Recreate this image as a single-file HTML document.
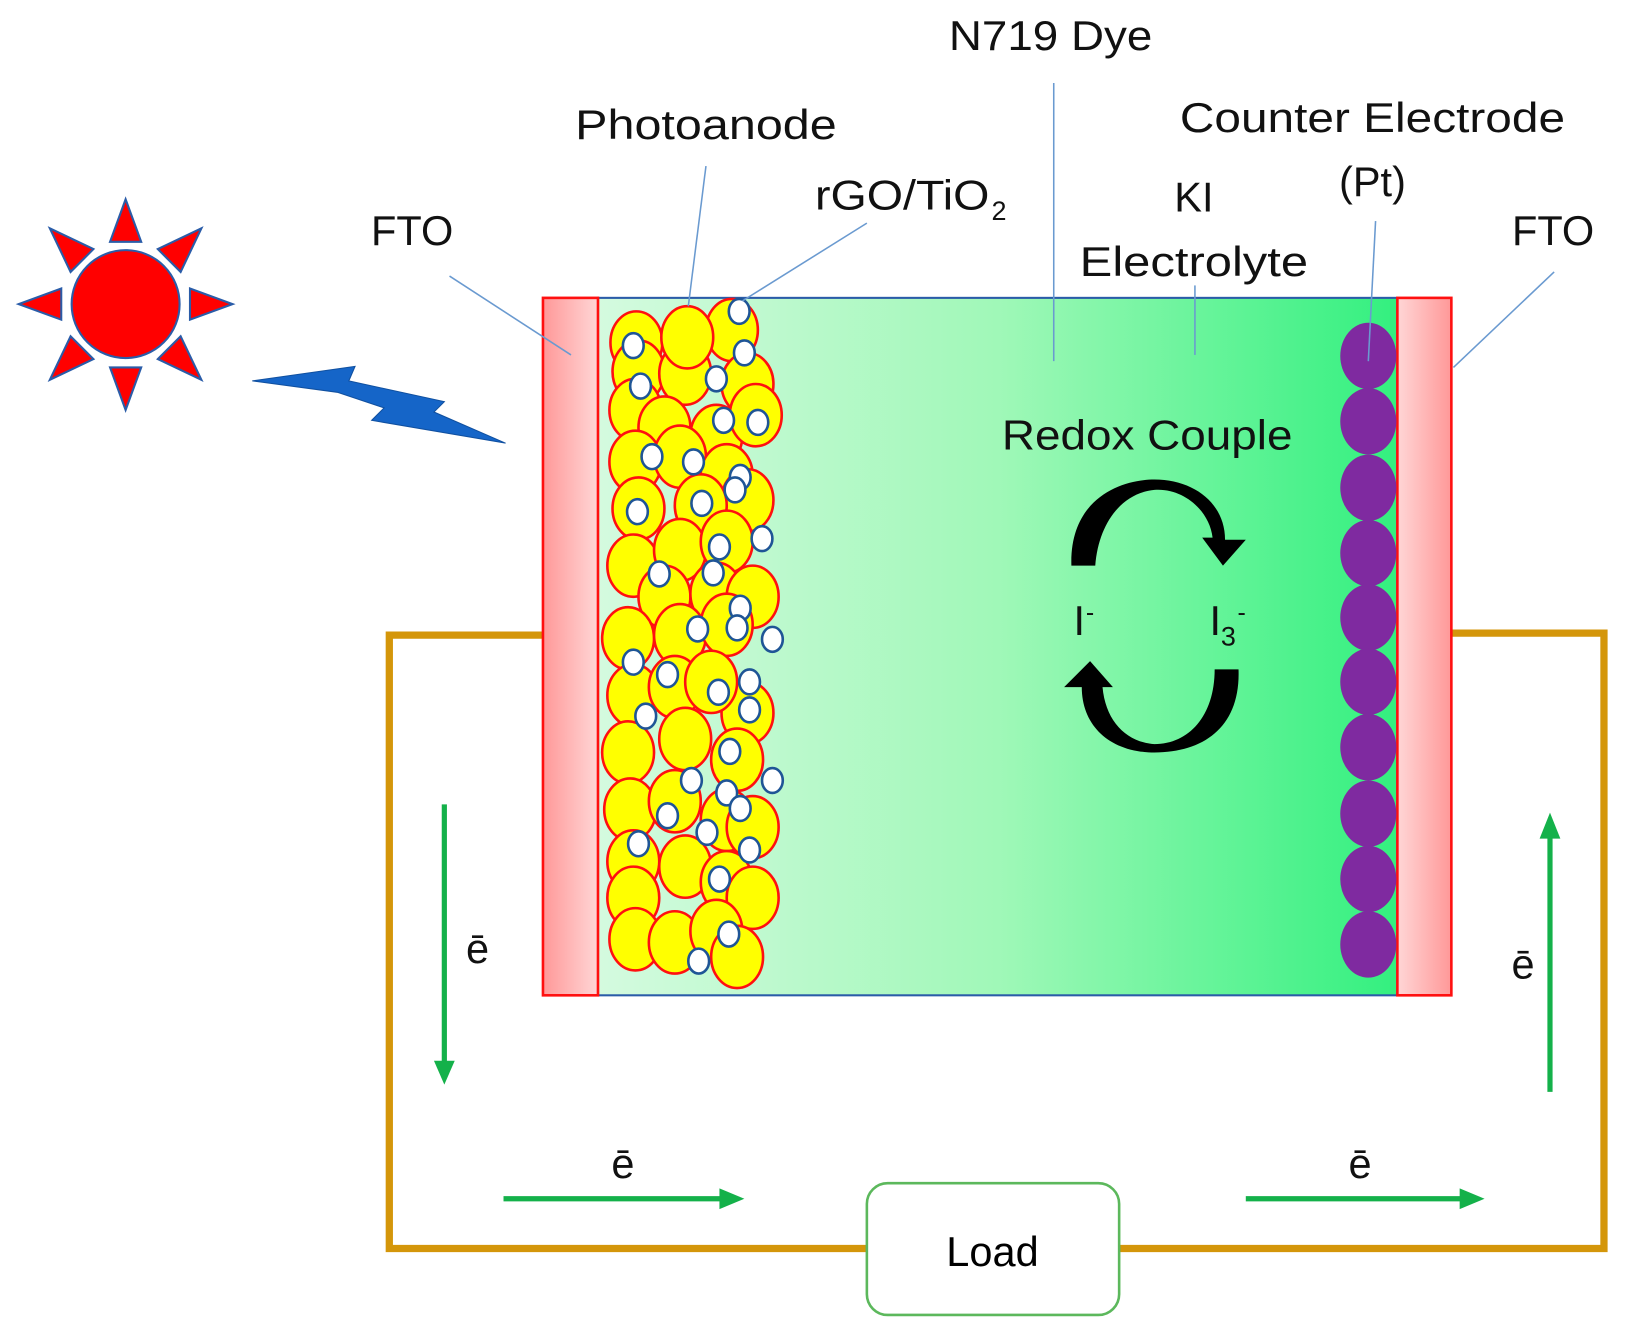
<!DOCTYPE html>
<html><head><meta charset="utf-8"><style>html,body{margin:0;padding:0;background:#fff}svg{display:block}</style></head>
<body>
<svg width="1632" height="1343" viewBox="0 0 1572 1294" preserveAspectRatio="none" xmlns="http://www.w3.org/2000/svg" font-family="Liberation Sans, sans-serif">
<defs>
<linearGradient id="fl" x1="0" x2="1" y1="0" y2="0"><stop offset="0" stop-color="#ff9898"/><stop offset="1" stop-color="#ffd6d6"/></linearGradient>
<linearGradient id="fr" x1="0" x2="1" y1="0" y2="0"><stop offset="0" stop-color="#ffd6d6"/><stop offset="1" stop-color="#ff9898"/></linearGradient>
<linearGradient id="el" x1="0" x2="1" y1="0" y2="0"><stop offset="0" stop-color="#d4fadf"/><stop offset="0.5" stop-color="#a0f8b8"/><stop offset="1" stop-color="#33f07f"/></linearGradient>
</defs>
<!-- wires -->
<g stroke="#d4960a" stroke-width="7" fill="none">
<polyline points="523,612 375,612 375,1203 835,1203"/>
<polyline points="1078,1203 1545,1203 1545,610 1398,610"/>
</g>
<rect x="835" y="1140" width="243" height="127" rx="20" fill="#fff" stroke="#5cb85c" stroke-width="2.5"/>
<text x="956" y="1220" font-size="40" text-anchor="middle">Load</text>
<!-- cell -->
<rect x="576" y="287" width="770" height="672" fill="url(#el)" stroke="#2a5ca8" stroke-width="2"/>
<rect x="523" y="287" width="53" height="672" fill="url(#fl)" stroke="#ff1010" stroke-width="2.5"/>
<rect x="1346" y="287" width="52" height="672" fill="url(#fr)" stroke="#ff1010" stroke-width="2.5"/>
<g fill="#7f2aa0">
<ellipse cx="1318" cy="343" rx="27" ry="32"/><ellipse cx="1318" cy="406" rx="27" ry="32"/><ellipse cx="1318" cy="470" rx="27" ry="32"/><ellipse cx="1318" cy="533" rx="27" ry="32"/><ellipse cx="1318" cy="595" rx="27" ry="32"/><ellipse cx="1318" cy="657" rx="27" ry="32"/><ellipse cx="1318" cy="720" rx="27" ry="32"/><ellipse cx="1318" cy="784" rx="27" ry="32"/><ellipse cx="1318" cy="847" rx="27" ry="32"/><ellipse cx="1318" cy="910" rx="27" ry="32"/>
</g>
<g fill="#ffff00" stroke="#ff1010" stroke-width="2.5">
<ellipse cx="613" cy="330" rx="25" ry="30"/><ellipse cx="705" cy="318" rx="25" ry="30"/><ellipse cx="615" cy="358" rx="25" ry="30"/><ellipse cx="660" cy="360" rx="25" ry="30"/><ellipse cx="720" cy="370" rx="25" ry="30"/><ellipse cx="662" cy="325" rx="25" ry="30"/>
<ellipse cx="612" cy="395" rx="25" ry="30"/><ellipse cx="640" cy="412" rx="25" ry="30"/><ellipse cx="690" cy="420" rx="25" ry="30"/><ellipse cx="728" cy="400" rx="25" ry="30"/>
<ellipse cx="612" cy="445" rx="25" ry="30"/><ellipse cx="655" cy="440" rx="25" ry="30"/><ellipse cx="700" cy="458" rx="25" ry="30"/><ellipse cx="720" cy="482" rx="25" ry="30"/>
<ellipse cx="615" cy="490" rx="25" ry="30"/><ellipse cx="675" cy="487" rx="25" ry="30"/><ellipse cx="610" cy="545" rx="25" ry="30"/><ellipse cx="655" cy="530" rx="25" ry="30"/><ellipse cx="700" cy="522" rx="25" ry="30"/>
<ellipse cx="640" cy="575" rx="25" ry="30"/><ellipse cx="690" cy="572" rx="25" ry="30"/><ellipse cx="725" cy="575" rx="25" ry="30"/>
<ellipse cx="605" cy="615" rx="25" ry="30"/><ellipse cx="655" cy="612" rx="25" ry="30"/><ellipse cx="700" cy="602" rx="25" ry="30"/>
<ellipse cx="610" cy="670" rx="25" ry="30"/><ellipse cx="650" cy="662" rx="25" ry="30"/><ellipse cx="720" cy="687" rx="25" ry="30"/><ellipse cx="685" cy="657" rx="25" ry="30"/>
<ellipse cx="605" cy="725" rx="25" ry="30"/><ellipse cx="660" cy="712" rx="25" ry="30"/><ellipse cx="710" cy="732" rx="25" ry="30"/>
<ellipse cx="607" cy="780" rx="25" ry="30"/><ellipse cx="650" cy="772" rx="25" ry="30"/><ellipse cx="700" cy="790" rx="25" ry="30"/><ellipse cx="725" cy="797" rx="25" ry="30"/>
<ellipse cx="610" cy="830" rx="25" ry="30"/><ellipse cx="660" cy="835" rx="25" ry="30"/><ellipse cx="700" cy="850" rx="25" ry="30"/><ellipse cx="725" cy="865" rx="25" ry="30"/>
<ellipse cx="610" cy="865" rx="25" ry="30"/><ellipse cx="612" cy="905" rx="25" ry="30"/><ellipse cx="650" cy="908" rx="25" ry="30"/><ellipse cx="690" cy="897" rx="25" ry="30"/><ellipse cx="710" cy="922" rx="25" ry="30"/>
</g>
<g fill="#fff" stroke="#1f5596" stroke-width="2.5">
<ellipse cx="610" cy="333" rx="10" ry="12"/><ellipse cx="712" cy="300" rx="10" ry="12"/><ellipse cx="717" cy="340" rx="10" ry="12"/><ellipse cx="617" cy="372" rx="10" ry="12"/><ellipse cx="690" cy="365" rx="10" ry="12"/><ellipse cx="697" cy="405" rx="10" ry="12"/><ellipse cx="730" cy="407" rx="10" ry="12"/><ellipse cx="628" cy="440" rx="10" ry="12"/><ellipse cx="668" cy="445" rx="10" ry="12"/><ellipse cx="713" cy="460" rx="10" ry="12"/><ellipse cx="708" cy="472" rx="10" ry="12"/><ellipse cx="614" cy="493" rx="10" ry="12"/><ellipse cx="676" cy="485" rx="10" ry="12"/><ellipse cx="693" cy="527" rx="10" ry="12"/><ellipse cx="734" cy="519" rx="10" ry="12"/><ellipse cx="635" cy="553" rx="10" ry="12"/><ellipse cx="687" cy="552" rx="10" ry="12"/><ellipse cx="713" cy="586" rx="10" ry="12"/><ellipse cx="710" cy="605" rx="10" ry="12"/><ellipse cx="672" cy="606" rx="10" ry="12"/><ellipse cx="744" cy="616" rx="10" ry="12"/><ellipse cx="610" cy="638" rx="10" ry="12"/><ellipse cx="643" cy="650" rx="10" ry="12"/><ellipse cx="692" cy="667" rx="10" ry="12"/><ellipse cx="722" cy="657" rx="10" ry="12"/><ellipse cx="722" cy="684" rx="10" ry="12"/><ellipse cx="622" cy="690" rx="10" ry="12"/><ellipse cx="703" cy="724" rx="10" ry="12"/><ellipse cx="666" cy="752" rx="10" ry="12"/><ellipse cx="700" cy="764" rx="10" ry="12"/><ellipse cx="744" cy="752" rx="10" ry="12"/><ellipse cx="713" cy="779" rx="10" ry="12"/><ellipse cx="643" cy="786" rx="10" ry="12"/><ellipse cx="681" cy="802" rx="10" ry="12"/><ellipse cx="615" cy="813" rx="10" ry="12"/><ellipse cx="722" cy="819" rx="10" ry="12"/><ellipse cx="693" cy="847" rx="10" ry="12"/><ellipse cx="702" cy="900" rx="10" ry="12"/><ellipse cx="673" cy="926" rx="10" ry="12"/>
</g>
<!-- sun -->
<g fill="#ff0000" stroke="#2a5ca8" stroke-width="2">
<polygon points="121,192 106,233 136,233"/><polygon points="121,395 106,354 136,354"/>
<polygon points="18,293 59,278 59,308"/><polygon points="224,293 183,278 183,308"/>
<polygon points="48,220 90,240 68,262"/><polygon points="194,220 152,240 174,262"/>
<polygon points="48,366 90,346 68,324"/><polygon points="194,366 152,346 174,324"/>
<circle cx="121" cy="293" r="52"/>
</g>
<polygon points="243,367 342,353 330,365 430,387 416,396 487,427 356,400 368,390 ..." fill="none"/>
<polygon points="243,367 342,353 336,367 428,387 418,397 487,427 358,405 370,393 325,378" fill="#1565c8" stroke="#1050a0" stroke-width="1"/>
<!-- leader lines -->
<g stroke="#6a9ad0" stroke-width="1.5">
<line x1="433" y1="266" x2="550" y2="342"/><line x1="680" y1="160" x2="663" y2="295"/><line x1="835" y1="215" x2="715" y2="290"/><line x1="1015" y1="80" x2="1015" y2="348"/><line x1="1151" y1="275" x2="1151" y2="342"/><line x1="1325" y1="213" x2="1318" y2="348"/><line x1="1497" y1="262" x2="1400" y2="354"/>
</g>
<!-- labels -->
<g font-size="40" fill="#111">
<text x="1012" y="48" text-anchor="middle" textLength="196" lengthAdjust="spacingAndGlyphs">N719 Dye</text>
<text x="680" y="134" text-anchor="middle" textLength="252" lengthAdjust="spacingAndGlyphs">Photoanode</text>
<text x="785" y="202" textLength="168" lengthAdjust="spacingAndGlyphs">rGO/TiO</text><text x="955" y="212" font-size="26">2</text>
<text x="1322" y="127" text-anchor="middle" textLength="371" lengthAdjust="spacingAndGlyphs">Counter Electrode</text>
<text x="1322" y="189" text-anchor="middle">(Pt)</text>
<text x="1150" y="204" text-anchor="middle">KI</text>
<text x="1150" y="266" text-anchor="middle" textLength="220" lengthAdjust="spacingAndGlyphs">Electrolyte</text>
<text x="397" y="236" text-anchor="middle">FTO</text>
<text x="1496" y="236" text-anchor="middle">FTO</text>
<text x="1105" y="433" text-anchor="middle" textLength="280" lengthAdjust="spacingAndGlyphs">Redox Couple</text>
<text x="1034" y="612">I</text><text x="1046" y="598" font-size="24">-</text>
<text x="1165" y="612">I</text><text x="1176" y="622" font-size="26">3</text><text x="1192" y="598" font-size="24">-</text>
<text x="460" y="928" text-anchor="middle">ē</text>
<text x="1467" y="943" text-anchor="middle">ē</text>
<text x="600" y="1135" text-anchor="middle">ē</text>
<text x="1310" y="1135" text-anchor="middle">ē</text>
</g>
<!-- redox arrows -->
<path d="M1032,545 C1030,480 1080,462 1112,462 C1150,462 1180,485 1180,520 L1200,520 L1178,545 L1158,518 L1168,518 C1165,492 1140,470 1112,472 C1080,475 1058,505 1055,545 Z" fill="#000"/>
<path d="M1193,645 C1195,700 1160,725 1112,725 C1070,725 1042,700 1042,662 L1025,662 L1050,637 L1072,662 L1062,662 C1065,695 1085,715 1112,717 C1145,717 1170,690 1170,645 Z" fill="#000"/>
<!-- green arrows -->
<g stroke="#14b14a" stroke-width="5" fill="#14b14a">
<line x1="428" y1="775" x2="428" y2="1025"/><polygon points="418,1022 438,1022 428,1045" stroke="none"/>
<line x1="1493" y1="1052" x2="1493" y2="805"/><polygon points="1483,808 1503,808 1493,783" stroke="none"/>
<line x1="485" y1="1155" x2="697" y2="1155"/><polygon points="693,1145 693,1165 717,1155" stroke="none"/>
<line x1="1200" y1="1155" x2="1410" y2="1155"/><polygon points="1406,1145 1406,1165 1430,1155" stroke="none"/>
</g>
</svg>
</body></html>
